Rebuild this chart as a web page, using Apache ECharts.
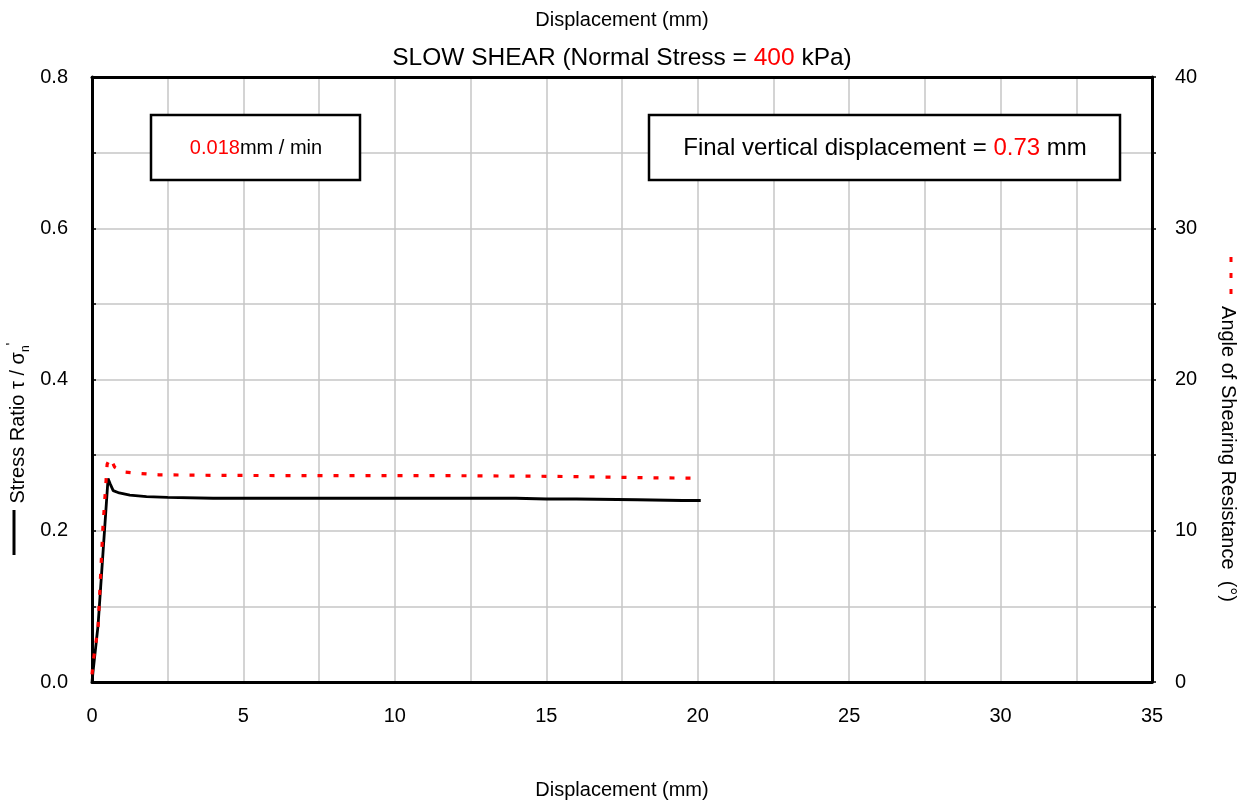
<!DOCTYPE html>
<html>
<head>
<meta charset="utf-8">
<script src="https://cdn.jsdelivr.net/npm/echarts@6/dist/echarts.min.js"></script>
<style>html,body{margin:0;padding:0;background:#fff}#c{width:1240px;height:809px}</style>
</head>
<body>
<div id="c"></div>
<script>
// Stress ratio (black solid line) vs displacement
const dispStress = [0, 0.03, 0.2, 0.53, 0.6, 0.7, 0.9, 1.25, 1.8, 2.5, 4, 6, 8, 10, 12, 14, 15, 16, 18, 19.5, 20.1];
const stressRatio = [0, 0.012, 0.075, 0.269, 0.262, 0.253, 0.25, 0.247, 0.245, 0.244, 0.243, 0.243, 0.243, 0.243, 0.243, 0.243, 0.242, 0.242, 0.241, 0.240, 0.240];
// Angle of shearing resistance (red dotted line) vs displacement
const dispAngle = [0, 0.05, 0.2, 0.36, 0.5, 0.6, 0.65, 0.75, 1.0, 1.5, 2.2, 4.3, 8, 12, 15, 17, 18.5, 20.1];
const angleDeg = [0.5, 1.5, 3.6, 10.2, 14.4, 14.8, 14.8, 14.2, 13.9, 13.8, 13.7, 13.66, 13.64, 13.64, 13.6, 13.55, 13.5, 13.47];
// Axis ticks
const xTicks = {min: 0, max: 35, interval: 5};
const yLeftTicks = {min: 0, max: 0.8, interval: 0.2};
const yRightTicks = {min: 0, max: 40, interval: 10};
// Texts
const titleParts = ['SLOW SHEAR (Normal Stress = ', '400', ' kPa)'];
const rateParts = ['0.018', 'mm / min'];
const finalParts = ['Final vertical displacement = ', '0.73', ' mm'];
const xName = 'Displacement (mm)';

const FONT = '"Liberation Sans", Arial, sans-serif';
const chart = echarts.init(document.getElementById('c'), null, {renderer: 'canvas'});

const stressData = dispStress.map((x, i) => [x, stressRatio[i]]);
const angleData = dispAngle.map((x, i) => [x, angleDeg[i]]);

const option = {
  backgroundColor: '#fff',
  animation: false,
  textStyle: {fontFamily: FONT},
  grid: {left: 92, right: 88, top: 77, bottom: 127, show: false},
  xAxis: [{
    type: 'value', min: xTicks.min, max: xTicks.max, interval: xTicks.interval,
    position: 'bottom',
    name: xName, nameLocation: 'middle', nameGap: 98,
    nameTextStyle: {fontSize: 20, color: '#000', fontFamily: FONT},
    axisLine: {show: true, onZero: false, lineStyle: {color: '#000', width: 3}},
    axisTick: {show: false},
    axisLabel: {fontSize: 20, color: '#000', margin: 24, fontFamily: FONT},
    splitLine: {show: true, lineStyle: {color: '#c6c6c6', width: 1.5}},
    minorTick: {show: false, splitNumber: 2},
    minorSplitLine: {show: true, lineStyle: {color: '#c6c6c6', width: 1.5}}
  }, {
    type: 'value', min: xTicks.min, max: xTicks.max, interval: xTicks.interval,
    position: 'top',
    axisLine: {show: true, onZero: false, lineStyle: {color: '#000', width: 3}},
    axisTick: {show: false},
    axisLabel: {show: false},
    splitLine: {show: false}
  }],
  yAxis: [{
    type: 'value', min: yLeftTicks.min, max: yLeftTicks.max, interval: yLeftTicks.interval,
    position: 'left',
    axisLine: {show: true, onZero: false, lineStyle: {color: '#000', width: 3}},
    axisTick: {show: true, inside: true, length: 4, lineStyle: {color: '#000', width: 1.5}},
    minorTick: {show: true, splitNumber: 2, length: 4, lineStyle: {color: '#000', width: 1.5}},
    axisLabel: {fontSize: 20, color: '#000', margin: 24, fontFamily: FONT, formatter: v => v.toFixed(1)},
    splitLine: {show: true, lineStyle: {color: '#c6c6c6', width: 1.5}},
    minorSplitLine: {show: true, lineStyle: {color: '#c6c6c6', width: 1.5}}
  }, {
    type: 'value', min: yRightTicks.min, max: yRightTicks.max, interval: yRightTicks.interval,
    position: 'right',
    axisLine: {show: true, onZero: false, lineStyle: {color: '#000', width: 3}},
    axisTick: {show: true, inside: false, length: 4, lineStyle: {color: '#000', width: 1.5}},
    minorTick: {show: true, splitNumber: 2, length: 4, lineStyle: {color: '#000', width: 1.5}},
    axisLabel: {fontSize: 20, color: '#000', margin: 23, fontFamily: FONT},
    splitLine: {show: false}
  }],
  series: [{
    name: 'Stress Ratio', type: 'line', xAxisIndex: 0, yAxisIndex: 0, data: stressData,
    showSymbol: false, smooth: false, z: 3,
    lineStyle: {color: '#000', width: 2.8}
  }, {
    name: 'Angle', type: 'line', xAxisIndex: 0, yAxisIndex: 1, data: angleData,
    showSymbol: false, smooth: false, z: 4,
    lineStyle: {color: '#ff0000', width: 3.2, type: [5, 11]}
  }],
  graphic: [
    {type: 'text', x: 622, y: 20, style: {text: xName, font: '20px ' + FONT, fill: '#000', align: 'center', verticalAlign: 'middle'}},
    {type: 'text', x: 622, y: 58, style: {
      text: '{a|' + titleParts[0] + '}{r|' + titleParts[1] + '}{a|' + titleParts[2] + '}',
      align: 'center', verticalAlign: 'middle',
      rich: {a: {fontSize: 24.5, fontFamily: FONT, fill: '#000'}, r: {fontSize: 24.5, fontFamily: FONT, fill: '#ff0000'}}
    }},
    {type: 'rect', shape: {x: 151, y: 115, width: 209, height: 65}, style: {fill: '#fff', stroke: '#000', lineWidth: 2.5}, z: 10},
    {type: 'text', x: 256, y: 148, z: 11, style: {
      text: '{r|' + rateParts[0] + '}{a|' + rateParts[1] + '}',
      align: 'center', verticalAlign: 'middle',
      rich: {a: {fontSize: 20, fontFamily: FONT, fill: '#000'}, r: {fontSize: 20, fontFamily: FONT, fill: '#ff0000'}}
    }},
    {type: 'rect', shape: {x: 649, y: 115, width: 471, height: 65}, style: {fill: '#fff', stroke: '#000', lineWidth: 2.5}, z: 10},
    {type: 'text', x: 885, y: 148, z: 11, style: {
      text: '{a|' + finalParts[0] + '}{r|' + finalParts[1] + '}{a|' + finalParts[2] + '}',
      align: 'center', verticalAlign: 'middle',
      rich: {a: {fontSize: 24, fontFamily: FONT, fill: '#000'}, r: {fontSize: 24, fontFamily: FONT, fill: '#ff0000'}}
    }},
    // left axis name with line key
    {type: 'line', shape: {x1: 14, y1: 510, x2: 14, y2: 555}, style: {stroke: '#000', lineWidth: 3}},
    {type: 'text', x: 18, y: 423, rotation: Math.PI / 2, style: {
      text: '{a|Stress Ratio τ / σ}{s|n}{p|\'}',
      align: 'center', verticalAlign: 'middle',
      rich: {a: {fontSize: 20, fontFamily: FONT, fill: '#000', lineHeight: 28},
             s: {fontSize: 12, fontFamily: FONT, fill: '#000', verticalAlign: 'bottom', lineHeight: 28},
             p: {fontSize: 15, fontFamily: FONT, fill: '#000', verticalAlign: 'top', lineHeight: 28}}
    }},
    // right axis name with dotted key
    {type: 'line', shape: {x1: 1231, y1: 257, x2: 1231, y2: 299}, style: {stroke: '#ff0000', lineWidth: 3, lineDash: [5, 11]}},
    {type: 'text', x: 1228, y: 454, rotation: -Math.PI / 2, style: {
      text: 'Angle of Shearing Resistance  (°)',
      align: 'center', verticalAlign: 'middle',
      font: '20px ' + FONT, fill: '#000'
    }}
  ]
};
chart.setOption(option);
</script>
</body>
</html>
